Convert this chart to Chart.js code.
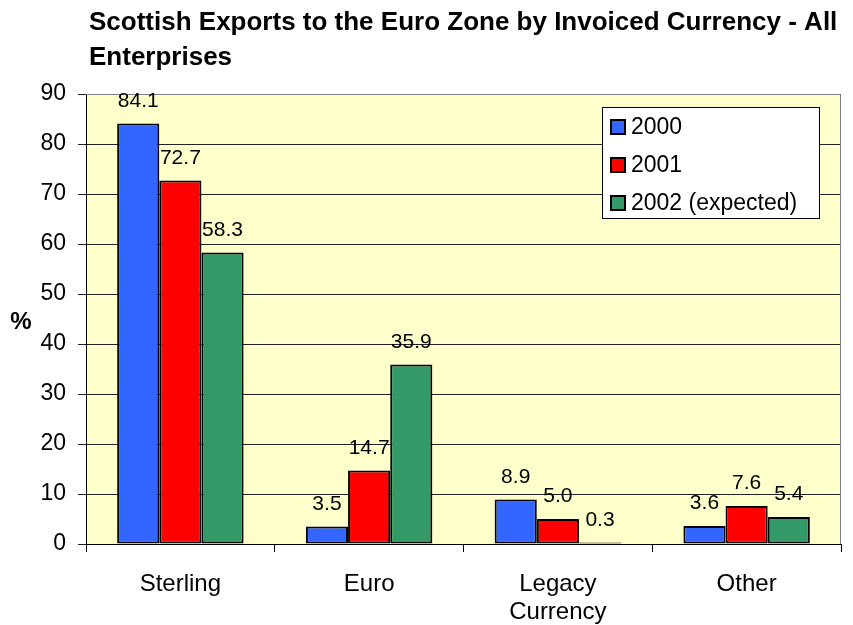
<!DOCTYPE html>
<html>
<head>
<meta charset="utf-8">
<script src="https://cdn.jsdelivr.net/npm/chart.js@4/dist/chart.umd.min.js"></script>
<style>
  html, body { margin: 0; padding: 0; background: #fff; }
  #wrap { width: 853px; height: 625px; }
</style>
</head>
<body>
<div id="wrap"><canvas id="myChart" width="853" height="625"></canvas></div>
<script>
const categorias = [['Sterling'], ['Euro'], ['Legacy', 'Currency'], ['Other']];
const valores2000 = [84.1, 3.5, 8.9, 3.6];
const valores2001 = [72.7, 14.7, 5.0, 7.6];
const valores2002 = [58.3, 35.9, 0.3, 5.4];
const etiquetasSeries = ['2000', '2001', '2002 (expected)'];
const tituloLineas = ['Scottish Exports to the Euro Zone by Invoiced Currency - All', 'Enterprises'];

const fuente = '"Liberation Sans", Arial, sans-serif';

// fondo amarillo y borde del area de trazado
const fondoArea = {
  id: 'fondoArea',
  beforeDraw(chart) {
    const { ctx, chartArea: a } = chart;
    ctx.save();
    ctx.fillStyle = '#FFFFCC';
    ctx.fillRect(a.left, a.top, a.right - a.left, a.bottom - a.top);
    ctx.restore();
  },
  afterDatasetsDraw(chart) {
    const { ctx, chartArea: a } = chart;
    ctx.save();
    ctx.strokeStyle = '#808080';
    ctx.lineWidth = 1;
    ctx.beginPath();
    ctx.moveTo(a.left, a.top + 0.5);
    ctx.lineTo(a.right - 0.5, a.top + 0.5);
    ctx.lineTo(a.right - 0.5, a.bottom);
    ctx.stroke();
    ctx.restore();
  }
};

// valores encima de cada barra
const etiquetasBarras = {
  id: 'etiquetasBarras',
  afterDatasetsDraw(chart) {
    const { ctx } = chart;
    ctx.save();
    ctx.font = '21px ' + fuente;
    ctx.fillStyle = '#000';
    ctx.textAlign = 'center';
    ctx.textBaseline = 'alphabetic';
    chart.data.datasets.forEach((ds, i) => {
      chart.getDatasetMeta(i).data.forEach((bar, j) => {
        ctx.fillText(ds.data[j].toFixed(1), bar.x, bar.y - 17);
      });
    });
    ctx.restore();
  }
};

// titulo, titulo del eje y leyenda
const textosExtra = {
  id: 'textosExtra',
  afterDraw(chart) {
    const { ctx } = chart;
    ctx.save();
    ctx.fillStyle = '#000';
    ctx.font = 'bold 26px ' + fuente;
    ctx.textAlign = 'left';
    ctx.textBaseline = 'alphabetic';
    tituloLineas.forEach((linea, i) => ctx.fillText(linea, 89, 30 + i * 35));

    ctx.font = 'bold 24px ' + fuente;
    ctx.textAlign = 'center';
    ctx.textBaseline = 'middle';
    ctx.fillText('%', 21, 322);

    // leyenda
    const lx = 602, ly = 107, lw = 217, lh = 111;
    ctx.fillStyle = '#fff';
    ctx.fillRect(lx, ly, lw, lh);
    ctx.strokeStyle = '#000';
    ctx.lineWidth = 1;
    ctx.strokeRect(lx + 0.5, ly + 0.5, lw, lh);
    ctx.font = '23px ' + fuente;
    ctx.textAlign = 'left';
    chart.data.datasets.forEach((ds, i) => {
      const cy = ly + 20 + i * 38;
      ctx.fillStyle = ds.backgroundColor;
      ctx.fillRect(lx + 9, cy - 7, 14, 14);
      ctx.lineWidth = 2;
      ctx.strokeStyle = '#000';
      ctx.strokeRect(lx + 9, cy - 7, 14, 14);
      ctx.fillStyle = '#000';
      ctx.fillText(ds.label, lx + 29, cy + 1);
    });
    ctx.restore();
  }
};

const ctx = document.getElementById('myChart').getContext('2d');
const colores = ['#3366FF', '#FF0000', '#339966'];
const series = [valores2000, valores2001, valores2002];

new Chart(ctx, {
  type: 'bar',
  data: {
    labels: categorias,
    datasets: series.map((valores, i) => ({
      label: etiquetasSeries[i],
      data: valores,
      backgroundColor: colores[i],
      borderColor: '#000',
      borderWidth: 2,
      borderSkipped: false,
      categoryPercentage: 0.67,
      barPercentage: 1
    }))
  },
  options: {
    responsive: false,
    animation: false,
    layout: { padding: { top: 94, right: 12, left: 0, bottom: 0 } },
    plugins: {
      legend: { display: false },
      title: { display: false },
      tooltip: { enabled: false }
    },
    scales: {
      x: {
        afterFit(scale) { scale.height = 81; },
        grid: {
          offset: true,
          drawOnChartArea: false,
          color: '#000',
          tickLength: 8
        },
        border: { color: '#000', width: 1 },
        ticks: {
          color: '#000',
          font: { family: fuente, size: 24, lineHeight: 1.17 },
          padding: 18,
          maxRotation: 0
        }
      },
      y: {
        min: 0,
        max: 90,
        afterFit(scale) { scale.width = 86; },
        grid: { color: '#222', tickLength: 8 },
        border: { color: '#000', width: 1 },
        ticks: {
          stepSize: 10,
          color: '#000',
          font: { family: fuente, size: 23 },
          padding: 12
        }
      }
    }
  },
  plugins: [fondoArea, etiquetasBarras, textosExtra]
});
</script>
</body>
</html>
